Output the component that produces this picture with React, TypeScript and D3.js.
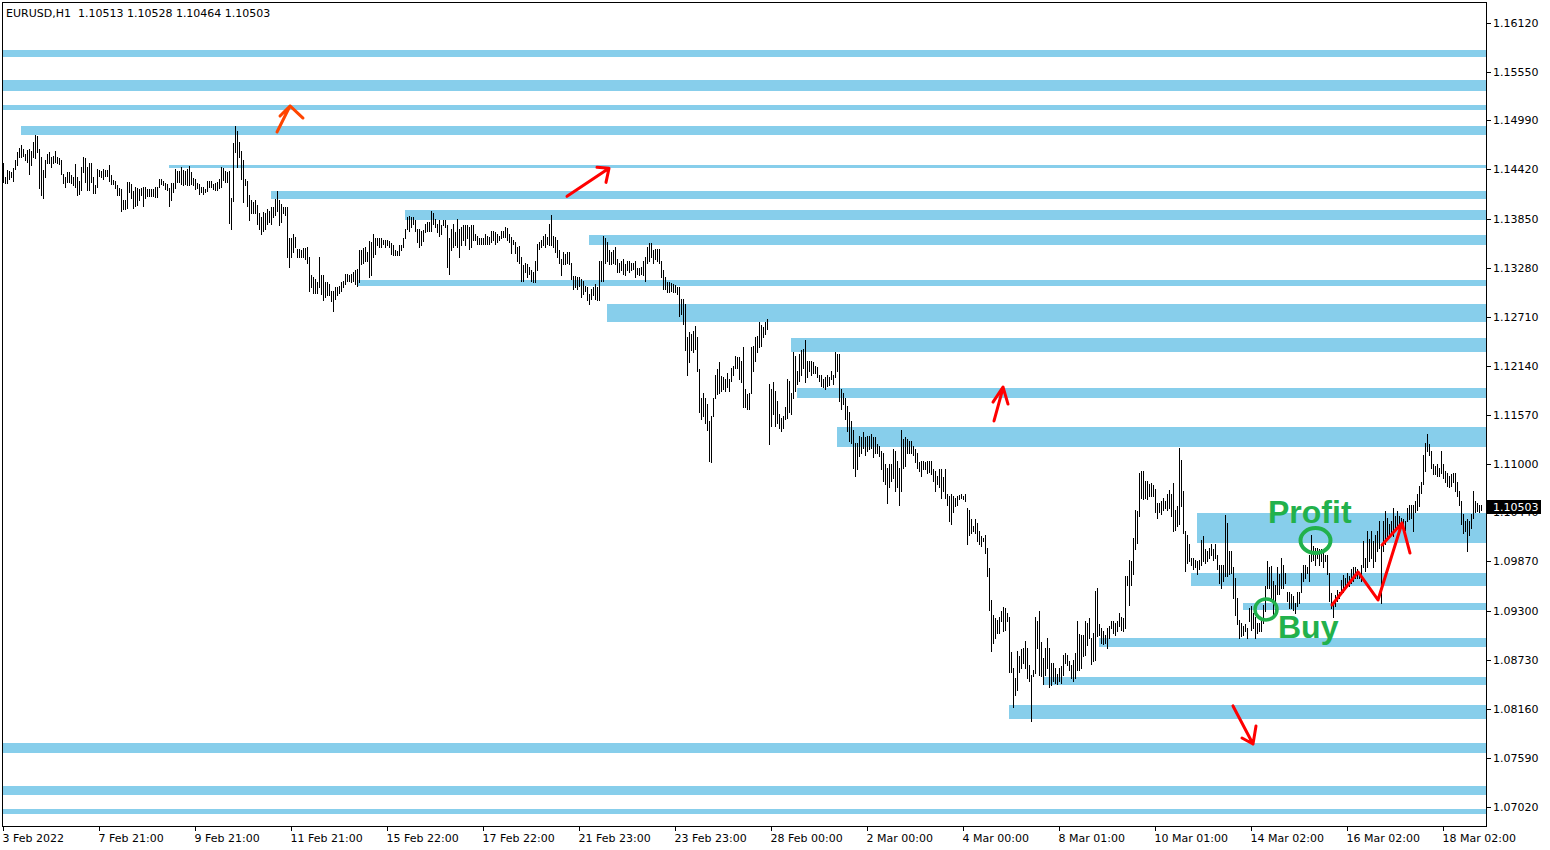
import React from 'react';
import * as d3 from 'd3';

const TITLE = 'EURUSD,H1\u00A0\u00A01.10513 1.10528 1.10464 1.10503';
const LAST_PRICE = 1.10503;
const LAST_PRICE_TEXT = '1.10503';

const timeLabels = ['3 Feb 2022', '7 Feb 21:00', '9 Feb 21:00', '11 Feb 21:00', '15 Feb 22:00', '17 Feb 22:00', '21 Feb 23:00', '23 Feb 23:00', '28 Feb 00:00', '2 Mar 00:00', '4 Mar 00:00', '8 Mar 01:00', '10 Mar 01:00', '14 Mar 02:00', '16 Mar 02:00', '18 Mar 02:00'];
const timeLabelBars = [0, 48, 96, 144, 192, 240, 288, 336, 384, 432, 480, 528, 576, 624, 672, 720];

const priceLabels = ['1.16120', '1.15550', '1.14990', '1.14420', '1.13850', '1.13280', '1.12710', '1.12140', '1.11570', '1.11000', '1.10440', '1.09870', '1.09300', '1.08730', '1.08160', '1.07590', '1.07020'];

// bar highs / lows in pips above 1.0000 (H1 bars, oldest first)
const barHigh = [
  1449, 1433, 1441, 1440, 1439, 1444, 1453, 1462, 1467, 1470,
  1466, 1460, 1465, 1466, 1464, 1474, 1482, 1481, 1466, 1456,
  1441, 1453, 1460, 1462, 1457, 1458, 1464, 1457, 1455, 1453,
  1437, 1433, 1439, 1439, 1435, 1433, 1448, 1433, 1429, 1445,
  1457, 1455, 1445, 1449, 1449, 1433, 1424, 1442, 1441, 1440,
  1443, 1441, 1441, 1447, 1435, 1430, 1429, 1424, 1420, 1419,
  1407, 1407, 1427, 1428, 1425, 1417, 1422, 1420, 1419, 1421,
  1422, 1422, 1419, 1419, 1419, 1419, 1422, 1422, 1431, 1431,
  1429, 1426, 1425, 1421, 1426, 1426, 1443, 1440, 1440, 1445,
  1441, 1440, 1443, 1446, 1439, 1432, 1431, 1426, 1425, 1422,
  1422, 1419, 1429, 1429, 1429, 1425, 1426, 1427, 1431, 1445,
  1444, 1440, 1439, 1440, 1409, 1473, 1493, 1487, 1474, 1464,
  1453, 1431, 1429, 1412, 1406, 1404, 1406, 1401, 1391,
  1387, 1393, 1391, 1396, 1394, 1398, 1398, 1408, 1417, 1406,
  1402, 1398, 1398, 1398, 1363, 1362, 1367, 1364, 1350, 1350,
  1348, 1351, 1351, 1352, 1340, 1320, 1317, 1315, 1311, 1340,
  1319, 1319, 1311, 1311, 1309, 1301, 1301, 1305, 1305, 1307,
  1311, 1313, 1321, 1321, 1319, 1321, 1323, 1325, 1327, 1348,
  1348, 1351, 1352, 1346, 1359, 1358, 1367, 1362, 1362, 1363,
  1363, 1360, 1360, 1360, 1359, 1357, 1354, 1348, 1347, 1354,
  1354, 1363, 1373, 1387, 1388, 1387, 1387, 1383, 1373, 1373,
  1371, 1372, 1379, 1381, 1381, 1394, 1391, 1385, 1379, 1383,
  1378, 1383, 1383, 1377, 1363, 1373, 1379, 1369, 1385, 1373,
  1375, 1377, 1377, 1377, 1375, 1377, 1377, 1367, 1365, 1363,
  1362, 1363, 1367, 1365, 1364,
  1371, 1370, 1369, 1367, 1365, 1371, 1371, 1375, 1374, 1367,
  1364, 1360, 1358, 1352, 1353, 1340, 1331, 1334, 1332, 1329,
  1325, 1323, 1336, 1356, 1358, 1360, 1365, 1367, 1364, 1379,
  1389, 1365, 1364, 1360, 1348, 1338, 1346, 1344, 1346, 1346,
  1334, 1318, 1318, 1317, 1317, 1315, 1313, 1307, 1305, 1298,
  1303, 1306, 1309, 1306, 1336, 1336, 1365, 1362, 1358, 1348,
  1346, 1348, 1352, 1338, 1334, 1336, 1338, 1332, 1336, 1336,
  1334, 1334, 1336, 1328, 1328, 1329, 1336, 1340, 1352, 1357,
  1357, 1348, 1350, 1350, 1350, 1336, 1325, 1317, 1311, 1311,
  1310, 1309, 1308, 1305, 1305,
  1292, 1292, 1286, 1247, 1253, 1251, 1255, 1260, 1248, 1210,
  1177, 1183, 1177, 1170, 1150, 1156, 1177, 1204, 1210, 1218,
  1202, 1201, 1199, 1206, 1199, 1212, 1214, 1226, 1224, 1224,
  1220, 1236, 1187, 1181, 1183, 1236, 1237, 1248, 1249, 1265,
  1261, 1259, 1265, 1268, 1193, 1187, 1195, 1185, 1173, 1158,
  1154, 1156, 1166, 1199, 1197, 1183, 1230, 1226, 1208, 1228,
  1232, 1234, 1244, 1220, 1220, 1220, 1218, 1214, 1213, 1204,
  1204, 1199, 1201, 1203, 1201, 1208, 1203, 1230, 1228, 1228,
  1187, 1183, 1177, 1168, 1160, 1150, 1140, 1125, 1125, 1133,
  1131, 1137, 1131, 1133, 1133, 1135, 1131, 1131, 1123, 1121,
  1115, 1113, 1100, 1096, 1100, 1100, 1117, 1115, 1104, 1096,
  1140, 1129, 1131, 1129, 1127, 1127, 1121, 1118, 1113, 1102,
  1104, 1104, 1102, 1104, 1104, 1104, 1094, 1092, 1086, 1094,
  1094, 1085, 1094, 1065, 1063, 1065, 1063, 1061, 1063, 1064,
  1065, 1063, 1065, 1049, 1047, 1036, 1028, 1036, 1032, 1022,
  1016, 1014, 1018, 1003,
  979, 942, 925, 921, 919, 923, 930, 934, 933, 927,
  922, 882, 863, 852, 883, 877, 885, 886, 895, 887,
  867, 855, 861, 922, 918, 929, 894, 875, 887, 898,
  887, 869, 869, 863, 856, 863, 866, 878, 881, 878,
  871, 867, 873, 881, 918, 903, 902, 902, 918, 916,
  921, 898, 904, 953, 956, 914, 910, 906, 902, 910,
  912, 918, 918, 916, 918, 927, 923, 921,
  970, 970, 989, 987, 1014, 1047, 1046, 1090, 1092, 1092,
  1080, 1080, 1077, 1078, 1076, 1071, 1055, 1055, 1057, 1061,
  1057, 1065, 1070, 1065, 1078, 1047, 1051, 1119, 1105, 1069,
  1022, 1018, 1007, 991, 991, 989, 987, 989, 1012, 1016,
  1001, 999, 1003, 1007, 1002, 1007, 995, 983, 983, 983,
  1041, 1032, 999, 999, 980, 968, 945, 919, 916, 912,
  914, 910, 933, 935, 927, 923, 916, 916, 918, 937,
  958, 987, 981,
  982, 964, 960, 980, 972, 991, 983, 974, 952, 952,
  949, 947, 939, 952, 952, 974, 983, 983, 981, 995,
  1018, 1005, 1003, 1003, 1001, 1001, 997, 995, 995, 974,
  950, 941, 948, 954, 952, 966, 971, 968, 974, 970,
  978, 980, 980, 978, 974, 983, 1011, 991, 1022, 1013,
  1022, 1011, 1018, 1022, 1034, 1007, 1034, 1046, 1038, 1030,
  1034, 1049, 1040, 1046, 1040, 1038, 1036, 1034, 1049, 1053,
  1053, 1053, 1057, 1065, 1075, 1079, 1111, 1125, 1135, 1123,
  1115, 1100, 1098, 1100, 1096, 1115, 1100, 1092, 1090, 1086,
  1088, 1090, 1090, 1079, 1069, 1057, 1042, 1034, 1036, 1034,
  1042, 1069, 1057, 1055, 1053, 1052.8,
];

const barLow = [
  1427, 1426, 1426, 1431, 1433, 1429, 1443, 1447, 1456, 1456,
  1458, 1453, 1451, 1437, 1447, 1456, 1455, 1462, 1420, 1412,
  1409, 1433, 1449, 1449, 1445, 1449, 1451, 1449, 1448, 1437,
  1426, 1422, 1428, 1427, 1426, 1424, 1422, 1412, 1413, 1418,
  1439, 1427, 1418, 1418, 1427, 1415, 1415, 1422, 1434, 1433,
  1431, 1434, 1434, 1429, 1425, 1425, 1420, 1412, 1412, 1394,
  1396, 1396, 1397, 1416, 1409, 1397, 1400, 1401, 1406, 1412,
  1400, 1409, 1411, 1411, 1411, 1411, 1410, 1410, 1422, 1425,
  1424, 1419, 1418, 1400, 1406, 1416, 1420, 1427, 1427, 1425,
  1424, 1425, 1424, 1424, 1425, 1424, 1419, 1420, 1414, 1416,
  1414, 1416, 1417, 1422, 1422, 1419, 1418, 1418, 1421, 1422,
  1430, 1427, 1427, 1380, 1373, 1405, 1462, 1445, 1456, 1431,
  1404, 1424, 1400, 1383, 1392, 1392, 1391, 1379, 1373,
  1367, 1371, 1373, 1379, 1381, 1379, 1387, 1389, 1394, 1377,
  1381, 1391, 1389, 1340, 1329, 1340, 1346, 1352, 1340, 1340,
  1340, 1340, 1338, 1334, 1301, 1305, 1299, 1299, 1299, 1305,
  1298, 1290, 1294, 1296, 1296, 1289, 1278, 1292, 1296, 1299,
  1301, 1305, 1309, 1313, 1313, 1311, 1313, 1309, 1307, 1311,
  1332, 1334, 1336, 1336, 1317, 1319, 1340, 1344, 1354, 1352,
  1352, 1356, 1352, 1354, 1352, 1344, 1343, 1343, 1343, 1343,
  1348, 1352, 1362, 1373, 1371, 1375, 1379, 1371, 1358, 1352,
  1354, 1359, 1369, 1370, 1371, 1371, 1379, 1375, 1369, 1365,
  1367, 1377, 1375, 1329, 1321, 1348, 1352, 1354, 1352, 1340,
  1354, 1360, 1354, 1363, 1350, 1352, 1360, 1360, 1356, 1356,
  1356, 1356, 1356, 1356, 1356,
  1358, 1360, 1356, 1358, 1360, 1362, 1364, 1364, 1360, 1358,
  1345, 1356, 1345, 1336, 1334, 1313, 1313, 1323, 1317, 1321,
  1313, 1311, 1311, 1325, 1350, 1352, 1354, 1352, 1356, 1354,
  1354, 1352, 1346, 1340, 1334, 1319, 1332, 1332, 1334, 1332,
  1315, 1303, 1305, 1303, 1307, 1294, 1298, 1301, 1290, 1286,
  1292, 1296, 1292, 1290, 1290, 1313, 1313, 1334, 1336, 1332,
  1332, 1334, 1332, 1323, 1323, 1325, 1321, 1319, 1325, 1323,
  1325, 1327, 1317, 1321, 1319, 1321, 1319, 1313, 1334, 1336,
  1340, 1334, 1338, 1336, 1334, 1317, 1303, 1303, 1300, 1300,
  1301, 1300, 1300, 1298, 1272,
  1274, 1263, 1232, 1204, 1218, 1232, 1230, 1234, 1208, 1160,
  1152, 1156, 1148, 1140, 1104, 1102, 1156, 1177, 1181, 1183,
  1185, 1187, 1185, 1189, 1185, 1197, 1203, 1212, 1212, 1199,
  1195, 1166, 1166, 1164, 1164, 1183, 1208, 1220, 1230, 1236,
  1237, 1247, 1251, 1257, 1123, 1144, 1158, 1144, 1148, 1142,
  1139, 1142, 1152, 1154, 1160, 1158, 1177, 1185, 1193, 1197,
  1203, 1212, 1195, 1201, 1208, 1203, 1206, 1206, 1201, 1197,
  1191, 1189, 1187, 1191, 1192, 1199, 1193, 1201, 1208, 1173,
  1164, 1170, 1152, 1139, 1127, 1125, 1096, 1086, 1094, 1109,
  1113, 1119, 1111, 1115, 1117, 1119, 1108, 1113, 1113, 1109,
  1094, 1080, 1077, 1055, 1073, 1080, 1084, 1069, 1073, 1053,
  1069, 1096, 1098, 1113, 1113, 1113, 1111, 1102, 1096, 1092,
  1086, 1094, 1094, 1090, 1091, 1088, 1080, 1069, 1077, 1073,
  1061, 1069, 1061, 1053, 1034, 1030, 1044, 1051, 1053, 1059,
  1061, 1059, 1057, 1007, 1018, 1020, 1022, 1020, 1011, 1007,
  1005, 1011, 997, 970,
  931, 883, 892, 898, 904, 904, 918, 906, 908, 918,
  859, 859, 818, 832, 838, 859, 863, 869, 863, 852,
  848, 802, 854, 857, 887, 855, 854, 845, 855, 863,
  841, 844, 848, 846, 845, 848, 846, 855, 869, 867,
  861, 852, 848, 852, 861, 861, 863, 877, 879, 890,
  898, 868, 871, 873, 900, 902, 892, 891, 892, 887,
  898, 910, 904, 902, 906, 912, 908, 906,
  910, 960, 937, 960, 972, 1001, 1009, 1040, 1061, 1059,
  1061, 1059, 1063, 1063, 1063, 1044, 1038, 1044, 1042, 1047,
  1049, 1047, 1049, 1040, 1022, 1023, 1028, 1030, 1051, 1020,
  976, 985, 987, 983, 978, 981, 972, 978, 983, 987,
  985, 987, 991, 995, 989, 991, 978, 962, 956, 964,
  970, 970, 972, 974, 945, 925, 914, 898, 900, 902,
  906, 898, 918, 908, 910, 898, 904, 906, 906, 916,
  929, 956, 956,
  941, 925, 929, 949, 949, 956, 956, 962, 941, 933,
  933, 931, 927, 935, 939, 952, 964, 968, 974, 964,
  987, 989, 983, 991, 983, 987, 980, 987, 972, 941,
  933, 923, 935, 941, 945, 949, 952, 956, 958, 958,
  962, 964, 968, 968, 968, 964, 980, 976, 980, 987,
  991, 980, 987, 999, 1003, 939, 999, 1007, 1015, 1018,
  1020, 1016, 1022, 1026, 1022, 1030, 1028, 1024, 1034, 1036,
  1038, 1022, 1044, 1047, 1051, 1067, 1077, 1092, 1115, 1111,
  1096, 1088, 1088, 1086, 1086, 1090, 1084, 1079, 1075, 1073,
  1075, 1079, 1069, 1063, 1053, 1030, 1020, 1022, 999, 1018,
  1026, 1038, 1044, 1046, 1044, 1046.4,
];

// support / resistance zones: upper price, lower price, first bar
const zoneUpper = [1.15807, 1.15458, 1.15168, 1.14925, 1.14472, 1.14170, 1.13950, 1.13659, 1.13137, 1.12858, 1.12464, 1.11883, 1.11431, 1.10433, 1.09736, 1.09388, 1.08982, 1.08529, 1.08204, 1.07763, 1.07264, 1.06997];
const zoneLower = [1.15725, 1.15331, 1.15110, 1.14820, 1.14437, 1.14077, 1.13833, 1.13543, 1.13067, 1.12650, 1.12301, 1.11767, 1.11199, 1.10084, 1.09585, 1.09307, 1.08877, 1.08436, 1.08042, 1.07647, 1.07159, 1.06939];
const zoneStartBar = [0, 0, 0, 9, 83, 134, 201, 293, 177, 302, 394, 397, 417, 597, 594, 620, 548, 520, 503, 0, 0, 0];

// annotation arrows: [bar, price] points, pen-up between sub-paths
const orangeArrow = [[[137, 1.14855], [143.5, 1.15157]], [[138.5, 1.15040], [143.5, 1.15157], [150, 1.15017]]];
const redArrowUp1 = [[[282, 1.14108], [303, 1.14433]], [[297, 1.14445], [303, 1.14433], [301.5, 1.14270]]];
const redArrowUp2 = [[[495.5, 1.11501], [500, 1.11883]], [[495, 1.11720], [500, 1.11895], [502.5, 1.11697]]];
const redArrowDown = [[[615, 1.08193], [625, 1.07751]], [[619.5, 1.07821], [625, 1.07751], [626.5, 1.07960]]];
const redZigzag = [[[664.5, 1.09365], [677.5, 1.09748], [687.5, 1.09423], [699.5, 1.10317], [703.5, 1.09968]], [[689.5, 1.10061], [699.5, 1.10317]]];

const profitLabel = { text: 'Profit', bar: 632.5, price: 1.10317 };
const buyLabel = { text: 'Buy', bar: 637.5, price: 1.08982 };
const profitMark = { bar: 656.25, price: 1.10113 };
const buyMark = { bar: 631.5, price: 1.09313 };

const W = 1550;
const H = 850;
const PLOT_L = 3;
const PLOT_R = 1486;
const PLOT_T = 23;
const PLOT_B = 807;
const FONT = '"DejaVu Sans", Verdana, sans-serif';
const ZONE = '#87CEEB';
const GREEN = '#22B14C';

export default function App() {
  const x = d3.scaleLinear().domain([0, 741.5]).range([PLOT_L, PLOT_R]);
  const y = d3.scaleLinear().domain([1.0702, 1.1612]).range([PLOT_B, PLOT_T]);
  const pip = (v: number) => 1 + v / 10000;

  const barPath = barHigh
    .map((h, i) => {
      const px = Math.round(x(i)) + 0.5;
      const y1 = Math.round(y(pip(h)));
      let y2 = Math.round(y(pip(barLow[i])));
      if (y2 <= y1) y2 = y1 + 1;
      return `M${px},${y1}V${y2 + 1}`;
    })
    .join('');

  const line = d3.line<number[]>().x((d) => x(d[0])).y((d) => y(d[1]));
  const arrowPath = (segs: number[][][]) => segs.map((s) => line(s)).join('');

  return (
    <svg width={W} height={H} style={{ position: 'fixed', left: 0, top: 0, background: '#fff' }} fontFamily={FONT}>
      <rect x={0} y={0} width={W} height={H} fill="#fff" />
      {/* zones */}
      <g shapeRendering="crispEdges">
        {zoneUpper.map((u, i) => {
          const x0 = Math.round(x(zoneStartBar[i]));
          const y0 = Math.round(y(u));
          const y1 = Math.round(y(zoneLower[i]));
          return <rect key={i} x={x0} y={y0} width={PLOT_R - x0} height={Math.max(1, y1 - y0)} fill={ZONE} />;
        })}
      </g>
      {/* price bars */}
      <path d={barPath} stroke="#000" strokeWidth={1} fill="none" shapeRendering="crispEdges" />
      {/* frame */}
      <rect x={2.5} y={2.5} width={PLOT_R - 2} height={824} fill="none" stroke="#000" strokeWidth={1} shapeRendering="crispEdges" />
      {/* title */}
      <text x={6} y={17} fontSize={11} fill="#000">{TITLE}</text>
      {/* price axis */}
      <g fontSize={11} fill="#000">
        {priceLabels.map((t) => {
          const py = Math.round(y(+t));
          return (
            <g key={t}>
              <line x1={PLOT_R + 1} x2={PLOT_R + 5} y1={py + 0.5} y2={py + 0.5} stroke="#000" shapeRendering="crispEdges" />
              <text x={1493} y={py + 4}>{t}</text>
            </g>
          );
        })}
      </g>
      {/* time axis */}
      <g fontSize={11} fill="#000">
        {timeLabels.map((t, i) => {
          const px = Math.round(x(timeLabelBars[i])) + 0.5;
          return (
            <g key={t}>
              <line x1={px} x2={px} y1={827} y2={831} stroke="#000" shapeRendering="crispEdges" />
              <text x={px - 1} y={842}>{t}</text>
            </g>
          );
        })}
      </g>
      {/* last price marker */}
      <rect x={1487} y={Math.round(y(LAST_PRICE)) - 7} width={54} height={14} fill="#000" shapeRendering="crispEdges" />
      <text x={1493} y={Math.round(y(LAST_PRICE)) + 4} fontSize={11} fill="#fff">{LAST_PRICE_TEXT}</text>
      {/* annotations */}
      <g fill="none" strokeLinecap="round" strokeLinejoin="round">
        <path d={arrowPath(orangeArrow)} stroke="#FF4500" strokeWidth={3} />
        <path d={arrowPath(redArrowUp1)} stroke="#FF0000" strokeWidth={3} />
        <path d={arrowPath(redArrowUp2)} stroke="#FF0000" strokeWidth={3} />
        <path d={arrowPath(redArrowDown)} stroke="#FF0000" strokeWidth={3} />
        <path d={arrowPath(redZigzag)} stroke="#FF0000" strokeWidth={3} />
        <ellipse cx={x(profitMark.bar)} cy={y(profitMark.price)} rx={15} ry={12.5} stroke={GREEN} strokeWidth={4} />
        <ellipse cx={x(buyMark.bar)} cy={y(buyMark.price)} rx={11} ry={10.5} stroke={GREEN} strokeWidth={3.5} />
      </g>
      <g fontFamily='"Liberation Sans", Arial, sans-serif' fontWeight="bold" fontSize={32} fill={GREEN}>
        <text x={x(profitLabel.bar)} y={y(profitLabel.price)}>{profitLabel.text}</text>
        <text x={x(buyLabel.bar)} y={y(buyLabel.price)}>{buyLabel.text}</text>
      </g>
    </svg>
  );
}
